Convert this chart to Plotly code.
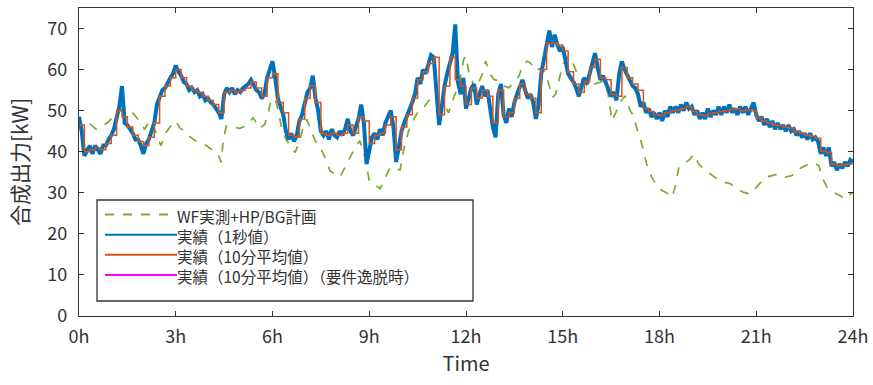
import plotly.graph_objects as go

# ---------------- data (kW) ----------------
# 10-minute average (stepped), 6 values per hour, 0h..23h
avg10 = [
    46.5, 40.0, 40.5, 41.0, 40.5, 42.0,
    44.0, 50.0, 48.5, 46.0, 44.0, 42.5,
    41.5, 43.5, 47.0, 53.5, 56.0, 58.0,
    60.0, 58.0, 56.0, 55.0, 54.5, 53.5,
    52.5, 51.5, 49.5, 54.5, 55.0, 54.5,
    55.0, 55.5, 57.0, 55.5, 53.5, 58.0,
    59.0, 52.0, 49.5, 44.0, 43.5, 48.0,
    53.0, 56.0, 52.0, 44.5, 44.0, 44.5,
    44.0, 44.5, 46.5, 44.5, 48.5, 47.5,
    42.0, 44.0, 44.5, 46.5, 48.5, 40.5,
    46.0, 49.0, 53.0, 57.5, 59.5, 61.5,
    63.0, 49.0, 56.0, 63.0, 57.5, 56.0,
    51.5, 55.5, 53.0, 55.0, 53.5, 47.0,
    55.0, 48.5, 49.5, 53.0, 56.5, 54.0,
    53.0, 49.5, 60.0, 66.5, 66.5, 66.0,
    64.5, 59.5, 56.5, 54.5, 57.0, 60.5,
    62.5, 58.0, 57.5, 54.0, 53.5, 60.5,
    58.0, 56.5, 55.0, 50.5, 49.8, 49.0,
    48.8, 49.5, 50.0, 50.2, 50.5, 51.0,
    49.8, 49.0, 48.8, 49.3, 49.5, 49.8,
    50.0, 50.3, 50.4, 50.0, 50.2, 50.0,
    48.3, 47.5, 47.0, 46.5, 46.3, 46.0,
    45.8, 44.8, 44.5, 44.0, 43.8, 43.3,
    40.2, 39.8, 37.0, 36.6, 36.8, 37.0,
]

# 1-second record, sampled here every 5 minutes (12 values per hour)
sec1 = [
    48.5, 45.0, 39.0, 40.5, 41.5, 39.5, 41.5, 40.5, 39.5, 41.5, 41.5, 43.0,
    44.0, 45.5, 48.0, 51.0, 56.0, 47.0, 46.5, 45.5, 44.5, 43.0, 43.0, 41.5,
    39.5, 42.0, 43.0, 45.0, 47.0, 51.5, 53.0, 55.0, 55.5, 57.0, 58.0, 59.0,
    61.0, 59.5, 58.5, 57.0, 56.5, 55.0, 55.5, 54.5, 55.0, 53.5, 54.0, 52.5,
    53.0, 52.0, 51.5, 50.5, 49.5, 48.0, 54.0, 55.5, 54.5, 55.5, 54.0, 55.0,
    54.5, 55.5, 56.0, 56.5, 57.5, 56.0, 55.0, 54.5, 53.0, 54.0, 58.0, 60.0,
    62.0, 58.0, 53.0, 51.0, 49.0, 45.0, 43.0, 44.5, 42.5, 44.0, 47.5, 49.0,
    52.0, 54.5, 55.5, 58.5, 53.0, 50.0, 45.0, 44.0, 45.0, 43.0, 45.5, 44.0,
    43.5, 45.0, 44.0, 45.5, 48.0, 45.0, 44.0, 46.0, 48.0, 51.5, 47.0, 37.0,
    41.0, 43.5, 44.5, 43.0, 45.5, 44.0, 47.0, 48.5, 50.0, 46.0, 37.5, 41.0,
    45.0, 47.0, 48.5, 50.5, 52.0, 54.0, 58.0, 56.5, 60.0, 59.0, 61.0, 63.5,
    63.0, 56.0, 46.5, 51.0, 56.0, 59.0, 62.0, 64.0, 71.0, 57.0, 54.0, 58.0,
    50.5, 53.0, 55.5, 56.5, 51.5, 54.0, 56.0, 53.5, 55.0, 50.5, 46.0, 43.5,
    54.0, 56.5, 49.0, 47.0, 50.5, 48.5, 52.0, 54.0, 56.0, 57.5, 55.0, 53.0,
    54.0, 52.0, 48.0, 51.5, 59.0, 63.0, 67.0, 69.5, 65.5, 68.5, 66.0, 64.5,
    65.5, 62.0, 59.0, 58.0, 57.0, 55.5, 53.5, 56.0, 58.0, 56.5, 59.0, 61.0,
    64.0, 60.5, 57.5, 58.5, 57.0, 55.5, 53.5, 54.5, 52.5, 59.0, 62.0, 60.0,
    58.5, 57.5, 56.0, 55.5, 54.0, 51.0, 52.0, 49.5, 50.5, 48.5, 49.5, 48.0,
    49.5, 47.5, 50.0, 48.5, 51.0, 49.5, 51.0, 49.5, 51.5, 50.0, 52.0, 50.5,
    51.0, 49.0, 50.0, 48.0, 49.5, 48.0, 50.5, 48.5, 50.0, 49.0, 51.0, 49.0,
    51.0, 49.5, 51.5, 49.5, 50.5, 49.0, 51.0, 49.5, 51.0, 49.0, 50.5, 52.0,
    49.0, 47.5, 48.5, 46.5, 48.0, 46.0, 47.5, 45.5, 47.0, 45.5, 46.5, 45.0,
    46.5, 45.0, 45.5, 44.0, 45.0, 43.5, 44.5, 43.0, 44.5, 43.0, 43.5, 42.5,
    39.5, 41.0, 39.0, 41.0, 36.5, 37.5, 35.5, 37.0, 36.0, 37.5, 36.5, 38.0,
    37.5,
]

# WF measured + HP/BG plan (hour, kW)
plan_t = [0, 0.16, 0.35, 0.53, 0.73, 0.89, 1.04, 1.25, 1.46, 1.66, 1.87, 2.03, 2.13, 2.28,
          2.4, 2.54, 2.7, 2.85, 3.0, 3.12, 3.33, 3.53, 3.74, 3.95, 4.16, 4.31, 4.41, 4.47,
          4.57, 4.78, 4.98, 5.19, 5.4, 5.6, 5.76, 5.86, 5.97, 6.1, 6.18, 6.28, 6.39, 6.54,
          6.7, 6.85, 6.96, 7.06, 7.16, 7.32, 7.47, 7.63, 7.78, 7.94, 8.09, 8.25, 8.4, 8.56,
          8.71, 8.87, 9.0, 9.19, 9.34, 9.5, 9.65, 9.8, 9.96, 10.06, 10.22, 10.38, 10.53,
          10.69, 10.84, 11.0, 11.15, 11.31, 11.46, 11.62, 11.78, 11.93, 12.0, 12.1, 12.2,
          12.3, 12.5, 12.61, 12.72, 12.87, 13.03, 13.18, 13.33, 13.49, 13.64, 13.75, 13.9,
          14.0, 14.16, 14.32, 14.47, 14.57, 14.68, 14.78, 14.88, 14.99, 15.17, 15.33, 15.48,
          15.64, 15.79, 15.95, 16.1, 16.26, 16.41, 16.52, 16.62, 16.78, 16.93, 17.09, 17.2,
          17.29, 17.45, 17.6, 17.76, 17.91, 18.07, 18.2, 18.39, 18.49, 18.6, 18.75, 18.95,
          19.06, 19.22, 19.37, 19.58, 19.78, 19.99, 20.2, 20.4, 20.61, 20.82, 20.97, 21.13,
          21.28, 21.49, 21.7, 21.9, 22.11, 22.31, 22.52, 22.73, 22.94, 23.04, 23.19, 23.4,
          23.61, 23.76, 23.92, 24.0]
plan_v = [46.7, 44.9, 46.7, 45.5, 46.3, 47.1, 48.3, 50.0, 50.8, 49.5, 47.5, 45.5, 46.7, 47.5,
          44.0, 41.5, 44.7, 46.3, 47.5, 45.9, 44.3, 43.1, 41.9, 41.5, 40.2, 39.4, 37.4, 42.7,
          46.3, 45.9, 45.7, 46.3, 48.3, 45.7, 46.7, 49.1, 53.0, 52.4, 50.0, 45.9, 43.5, 41.5,
          39.8, 42.7, 46.3, 47.9, 45.9, 42.7, 41.2, 38.6, 35.4, 34.6, 33.8, 36.2, 38.6, 41.0,
          42.7, 38.6, 33.0, 31.8, 31.0, 33.8, 36.2, 35.8, 35.6, 40.2, 45.1, 47.9, 50.0,
          50.8, 52.4, 52.8, 50.4, 51.6, 49.5, 53.2, 56.4, 62.5, 63.3, 58.8, 57.2,
          55.2, 58.8, 62.1, 59.2, 57.6, 57.2, 56.0, 55.6, 56.8, 58.4, 60.9, 62.1,
          61.6, 59.7, 60.4, 59.2, 56.4, 53.2, 54.0, 57.2, 61.0, 63.3, 61.3, 58.4,
          57.2, 55.6, 56.4, 56.8, 57.2, 54.0, 47.5, 49.1, 52.0, 53.6, 50.0, 48.7,
          45.9, 41.9, 37.0, 33.8, 31.8, 30.6, 30.1, 28.9, 31.6, 36.2, 37.0, 38.2,
          39.4, 37.0, 35.8, 34.6, 33.4, 32.6, 32.2, 31.0, 30.1, 29.7, 31.0, 32.6,
          33.8, 34.2, 34.6, 33.8, 34.2, 35.8, 36.6, 37.4, 36.6, 33.8, 31.4, 30.1,
          29.3, 28.5, 29.7, 30.0]

x_ticks = [0, 3, 6, 9, 12, 15, 18, 21, 24]
x_tick_labels = ["0h", "3h", "6h", "9h", "12h", "15h", "18h", "21h", "24h"]
y_ticks = [0, 10, 20, 30, 40, 50, 60, 70]

names = ["WF実測+HP/BG計画", "実績（1秒値）", "実績（10分平均値）", "実績（10分平均値）（要件逸脱時）"]
colors = ["#77AC30", "#0072BD", "#D95319", "#FF00FF"]

t10 = [i / 6 for i in range(len(avg10))] + [24]
y10 = avg10 + [avg10[-1]]
t5 = [i / 12 for i in range(len(sec1))]

FONT = "Noto Sans CJK JP"
TXT = "#333333"
fig = go.Figure()
fig.add_trace(go.Scatter(x=plan_t, y=plan_v, mode="lines", name=names[0],
                         line=dict(color=colors[0], width=1.7, dash="dash"), showlegend=False))
fig.add_trace(go.Scatter(x=t5, y=sec1, mode="lines", name=names[1],
                         line=dict(color=colors[1], width=4), showlegend=False))
fig.add_trace(go.Scatter(x=t10, y=y10, mode="lines", name=names[2], line_shape="hv",
                         line=dict(color=colors[2], width=1.5), showlegend=False))

# manual legend (paper coords)
L, R, B, T = 79, 853, 316, 8
W, H = R - L, B - T
def px(x): return (x - L) / W
def py(y): return (B - y) / H

LEG_FS = 15.5
line_h = 1.3 * LEG_FS
first_row = 214.5
rows = [first_row + i * line_h for i in range(4)]
fig.add_shape(type="rect", xref="paper", yref="paper", x0=px(97), x1=px(473), y0=py(301), y1=py(200),
              line=dict(color=TXT, width=1.3), fillcolor="white", layer="above")
dashes = ["dash", "solid", "solid", "solid"]
for i, r in enumerate(rows):
    fig.add_shape(type="line", xref="paper", yref="paper", x0=px(105), x1=px(177), y0=py(r), y1=py(r),
                  line=dict(color=colors[i], width=2, dash=dashes[i]), layer="above")
fig.add_annotation(xref="paper", yref="paper", x=px(176), y=py(rows[0] - line_h / 2),
                   text="<br>".join(names), showarrow=False, align="left",
                   xanchor="left", yanchor="top", borderpad=0,
                   font=dict(family=FONT, size=LEG_FS, color=TXT))

axis_common = dict(showline=True, linecolor=TXT, linewidth=1.3, mirror="ticks",
                   ticks="inside", ticklen=5, tickcolor=TXT, showgrid=False, zeroline=False,
                   automargin=False, tickfont=dict(family=FONT, size=18, color=TXT))
fig.update_xaxes(range=[0, 24], tickvals=x_ticks, ticktext=x_tick_labels, ticklabelstandoff=4,
                 title=dict(text="Time", font=dict(family=FONT, size=20, color=TXT), standoff=10),
                 **axis_common)
fig.update_yaxes(range=[0, 75], tickvals=y_ticks, ticklabelstandoff=7,
                 title=dict(text="合成出力[kW]", font=dict(family=FONT, size=21, color=TXT), standoff=12),
                 **axis_common)
fig.update_layout(width=873, height=385, margin=dict(l=L, r=873 - R, t=T, b=385 - B),
                  plot_bgcolor="white", paper_bgcolor="white", showlegend=False)
fig.write_html("out.html", config={"displayModeBar": False},
               post_script="document.body.style.margin='0';document.body.style.overflow='hidden';")
